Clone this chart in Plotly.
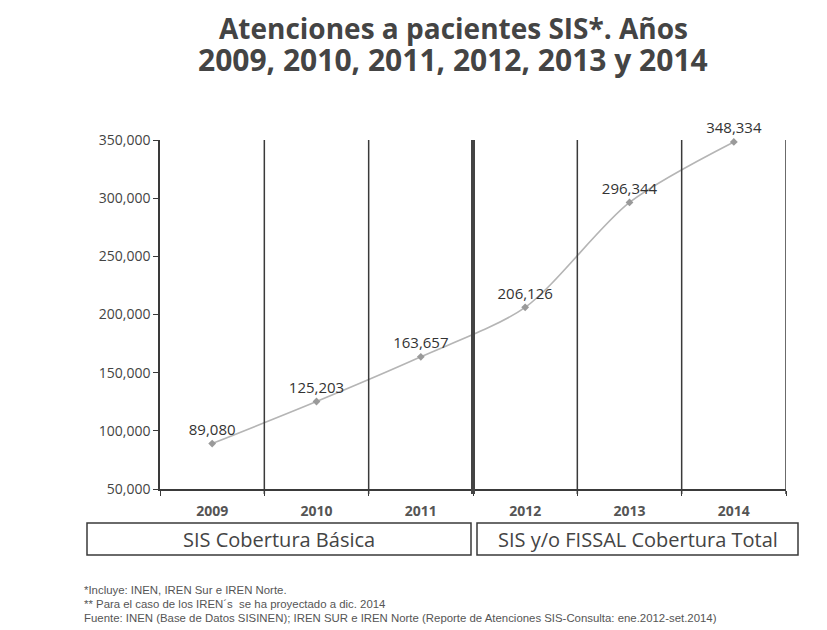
import plotly.graph_objects as go

# ---- data ----
years = ["2009", "2010", "2011", "2012", "2013", "2014"]
atenciones = [89080, 125203, 163657, 206126, 296344, 348334]
y_ticks = [50000, 100000, 150000, 200000, 250000, 300000, 350000]
group_labels = ["SIS Cobertura Básica", "SIS y/o FISSAL Cobertura Total"]
title_lines = ["Atenciones a pacientes SIS*. Años", "2009, 2010, 2011, 2012, 2013 y 2014"]
footnotes = [
    "*Incluye: INEN, IREN Sur e IREN Norte.",
    "** Para el caso de los IREN´s  se ha proyectado a dic. 2014",
    "Fuente: INEN (Base de Datos SISINEN); IREN SUR e IREN Norte (Reporte de Atenciones SIS-Consulta: ene.2012-set.2014)",
]

# ---- layout geometry (pixels in the 827x630 window) ----
O = 8                      # page body margin offset
W, H = 827 - O, 630 - O    # figure size
X0, X1, Y0, Y1 = 160, 786, 140, 489   # plot area in window pixels
L, R, T, B = X0 - O, (827 - X1), Y0 - O, (630 - Y1)
PW, PH = X1 - X0, Y1 - Y0


def px(xw):
    return (xw - X0) / PW


def py(yw):
    return (Y1 - yw) / PH


FONT = "Open Sans, Noto Sans, sans-serif"
DARK = "#3a3a3a"

fig = go.Figure()
fig.add_trace(go.Scatter(
    x=years, y=atenciones,
    mode="lines+markers+text",
    line=dict(color="#b5b5b5", width=1.6, shape="spline", smoothing=0.8),
    marker=dict(color="#9a9a9a", size=6, symbol="diamond"),
    text=[f"{v:,}" for v in atenciones],
    textposition="top center",
    textfont=dict(family=FONT, size=15, color="#333333"),
    cliponaxis=False,
    showlegend=False,
))

shapes = []
for i in range(len(years)):
    b = i + 0.5
    thick = (b == 2.5)
    shapes.append(dict(
        type="line", xref="x", yref="paper", x0=b, x1=b, y0=-0.014, y1=1,
        line=dict(color="#444444" if thick else DARK, width=4 if thick else 1.5),
    ))

boxes = [(87, 471), (477, 798)]
annotations = []
for (bx0, bx1), lab in zip(boxes, group_labels):
    shapes.append(dict(
        type="rect", xref="paper", yref="paper",
        x0=px(bx0), x1=px(bx1), y0=py(555), y1=py(523),
        line=dict(color=DARK, width=1.5), fillcolor="rgba(0,0,0,0)",
    ))
    annotations.append(dict(
        xref="paper", yref="paper", x=px((bx0 + bx1) / 2), y=py(539),
        xanchor="center", yanchor="middle", showarrow=False,
        text=lab, font=dict(family=FONT, size=20, color="#444444"),
    ))

for i, fn in enumerate(footnotes):
    annotations.append(dict(
        xref="paper", yref="paper", x=px(82), y=py(590 + 14 * i),
        xanchor="left", yanchor="middle", showarrow=False,
        text=fn, font=dict(family="Liberation Sans Narrow, Liberation Sans, sans-serif",
                           size=11.4, color="#555555"),
    ))

for i, (line, yc) in enumerate(zip(title_lines, [28, 59])):
    annotations.append(dict(
        xref="paper", yref="paper", x=px(453), y=py(yc), xanchor="center", yanchor="middle",
        showarrow=False, text="<b>" + line + "</b>",
        font=dict(family=FONT, size=28 if i == 0 else 30, color="#444444"),
    ))

fig.update_layout(
    width=W, height=H,
    margin=dict(l=L, r=R, t=T, b=B, pad=0),
    paper_bgcolor="white", plot_bgcolor="white",
    shapes=shapes, annotations=annotations,
    xaxis=dict(
        type="category", categoryorder="array", categoryarray=years,
        range=[-0.5, 5.5], showgrid=False, zeroline=False,
        showline=True, linecolor=DARK, linewidth=1.5,
        ticks="outside", tickson="boundaries", ticklen=5, tickcolor=DARK,
        ticklabelstandoff=8,
        tickfont=dict(family=FONT, size=14, color="#555555", weight="bold"),
        fixedrange=True,
    ),
    yaxis=dict(
        range=[50000, 350000], tickvals=y_ticks, tickformat=",",
        showgrid=False, zeroline=False,
        showline=True, linecolor=DARK, linewidth=1.5,
        ticks="outside", ticklen=5, tickcolor=DARK,
        tickfont=dict(family=FONT, size=14, color="#444444"),
        fixedrange=True,
    ),
)

fig.write_html("out.html")
